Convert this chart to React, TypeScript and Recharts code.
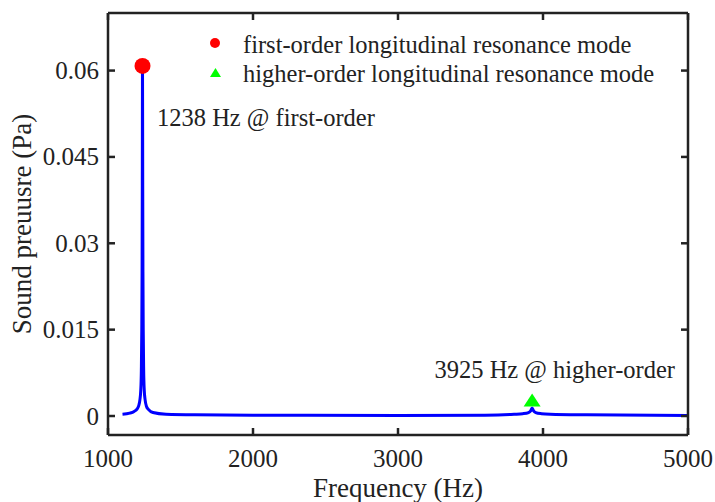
import React from 'react';
import { ComposedChart, Line, Scatter, XAxis, YAxis } from 'recharts';

// Frequency response (Hz, Pa)
const freqs = [1100, 1150, 1180, 1200, 1212, 1220, 1226, 1230, 1233, 1235, 1236.5, 1238, 1239.5, 1241, 1243, 1246, 1250, 1256, 1265, 1280, 1310, 1400, 1600, 2000, 3000, 3600, 3800, 3860, 3900, 3915, 3925, 3935, 3950, 3990, 4050, 4300, 5000];
const pressures = [0.0003, 0.0005, 0.0008, 0.0012, 0.0018, 0.0028, 0.0045, 0.008, 0.015, 0.025, 0.04, 0.0608, 0.04, 0.025, 0.015, 0.008, 0.0045, 0.0028, 0.0017, 0.0011, 0.0006, 0.0003, 0.0002, 0.00015, 0.0001, 0.00015, 0.0003, 0.0004, 0.0006, 0.0009, 0.0014, 0.0009, 0.0006, 0.0004, 0.0003, 0.0002, 0.0001];

const firstOrder = [{ f: 1238, p: 0.0608 }];
const higherOrder = [{ f: 3925, p: 0.0028 }];

const xTicks = [1000, 2000, 3000, 4000, 5000];
const xTickLabels = ['1000', '2000', '3000', '4000', '5000'];
const yTicks = [0, 0.015, 0.03, 0.045, 0.06];
const yTickLabels = ['0', '0.015', '0.03', '0.045', '0.06'];

const legendLabels = ['first-order longitudinal resonance mode', 'higher-order longitudinal resonance mode'];
const annotations = ['1238 Hz @ first-order', '3925 Hz @ higher-order'];
const xTitle = 'Frequency (Hz)';
const yTitle = 'Sound preuusre (Pa)';

const data = freqs.map((f, i) => ({ f, p: pressures[i] }));

const FONT = '"Liberation Serif", "Times New Roman", serif';
const INK = '#222222';
const TICK = 7;
const FRAME = 2.5;

const BottomTick = (props: any) => {
  const { x, y, payload } = props;
  const idx = xTicks.indexOf(payload.value);
  return (
    <g>
      <path d={`M${x},${y}V${y - TICK}`} stroke={INK} strokeWidth={FRAME} fill="none" />
      <text x={x} y={y + 32} textAnchor="middle" fontFamily={FONT} fontSize={25} fill={INK}>
        {idx >= 0 ? xTickLabels[idx] : payload.value}
      </text>
    </g>
  );
};
const TopTick = (props: any) => {
  const { x, y } = props;
  return <path d={`M${x},${y}V${y + TICK}`} stroke={INK} strokeWidth={FRAME} fill="none" />;
};
const LeftTick = (props: any) => {
  const { x, y, payload } = props;
  const idx = yTicks.indexOf(payload.value);
  return (
    <g>
      <path d={`M${x},${y}H${x + TICK}`} stroke={INK} strokeWidth={FRAME} fill="none" />
      <text x={x - 9} y={y + 8.5} textAnchor="end" fontFamily={FONT} fontSize={25} fill={INK}>
        {idx >= 0 ? yTickLabels[idx] : payload.value}
      </text>
    </g>
  );
};
const RightTick = (props: any) => {
  const { x, y } = props;
  return <path d={`M${x},${y}H${x - TICK}`} stroke={INK} strokeWidth={FRAME} fill="none" />;
};

const RedDot = (props: any) => {
  const { cx, cy } = props;
  return <circle cx={cx} cy={cy} r={8} fill="#FF0000" />;
};
const GreenTri = (props: any) => {
  const { cx, cy } = props;
  return <polygon points={`${cx - 8.5},${cy + 6.5} ${cx + 8.5},${cy + 6.5} ${cx},${cy - 6.5}`} fill="#00FF00" />;
};

export default function App() {
  return (
    <div style={{ position: 'absolute', left: 0, top: 0, width: 715, height: 502, background: '#fff' }}>
      <ComposedChart width={715} height={502} data={data} margin={{ top: 12, right: 26, left: 0, bottom: 0 }}>
        <XAxis
          xAxisId="b"
          dataKey="f"
          type="number"
          domain={[1000, 5000]}
          ticks={xTicks}
          interval={0}
          height={67}
          tickSize={0}
          tickMargin={0}
          tick={<BottomTick />}
          axisLine={{ stroke: INK, strokeWidth: FRAME }}
          allowDataOverflow
        />
        <XAxis
          xAxisId="t"
          orientation="top"
          dataKey="f"
          type="number"
          domain={[1000, 5000]}
          ticks={xTicks}
          interval={0}
          height={1}
          tickSize={0}
          tickMargin={0}
          tick={<TopTick />}
          axisLine={{ stroke: INK, strokeWidth: FRAME }}
          allowDataOverflow
        />
        <YAxis
          yAxisId="l"
          type="number"
          domain={[-0.0033, 0.07]}
          ticks={yTicks}
          interval={0}
          width={108}
          tickSize={0}
          tickMargin={0}
          tick={<LeftTick />}
          axisLine={{ stroke: INK, strokeWidth: FRAME }}
          allowDataOverflow
        />
        <YAxis
          yAxisId="r"
          orientation="right"
          type="number"
          domain={[-0.0033, 0.07]}
          ticks={yTicks}
          interval={0}
          width={1}
          tickSize={0}
          tickMargin={0}
          tick={<RightTick />}
          axisLine={{ stroke: INK, strokeWidth: FRAME }}
          allowDataOverflow
        />
        <Line
          xAxisId="b"
          yAxisId="l"
          type="monotone"
          dataKey="p"
          stroke="#0000FF"
          strokeWidth={3}
          dot={false}
          isAnimationActive={false}
        />
        <Scatter xAxisId="b" yAxisId="l" data={firstOrder} dataKey="p" shape={<RedDot />} isAnimationActive={false} />
        <Scatter xAxisId="b" yAxisId="l" data={higherOrder} dataKey="p" shape={<GreenTri />} isAnimationActive={false} />
      </ComposedChart>
      <svg width={715} height={502} style={{ position: 'absolute', left: 0, top: 0, pointerEvents: 'none' }}>
        <g fontFamily={FONT} fill={INK} fontSize={24.5}>
          <circle cx={215} cy={43} r={5} fill="#FF0000" />
          <text x={243} y={53}>{legendLabels[0]}</text>
          <polygon points="210,77 221,77 215.5,68" fill="#00FF00" />
          <text x={243} y={82}>{legendLabels[1]}</text>
          <text x={157} y={126}>{annotations[0]}</text>
          <text x={675} y={378} textAnchor="end">{annotations[1]}</text>
          <text x={398} y={497} textAnchor="middle" fontSize={27}>{xTitle}</text>
          <text x={31} y={224} textAnchor="middle" fontSize={27} transform="rotate(-90 31 224)">{yTitle}</text>
        </g>
      </svg>
    </div>
  );
}
